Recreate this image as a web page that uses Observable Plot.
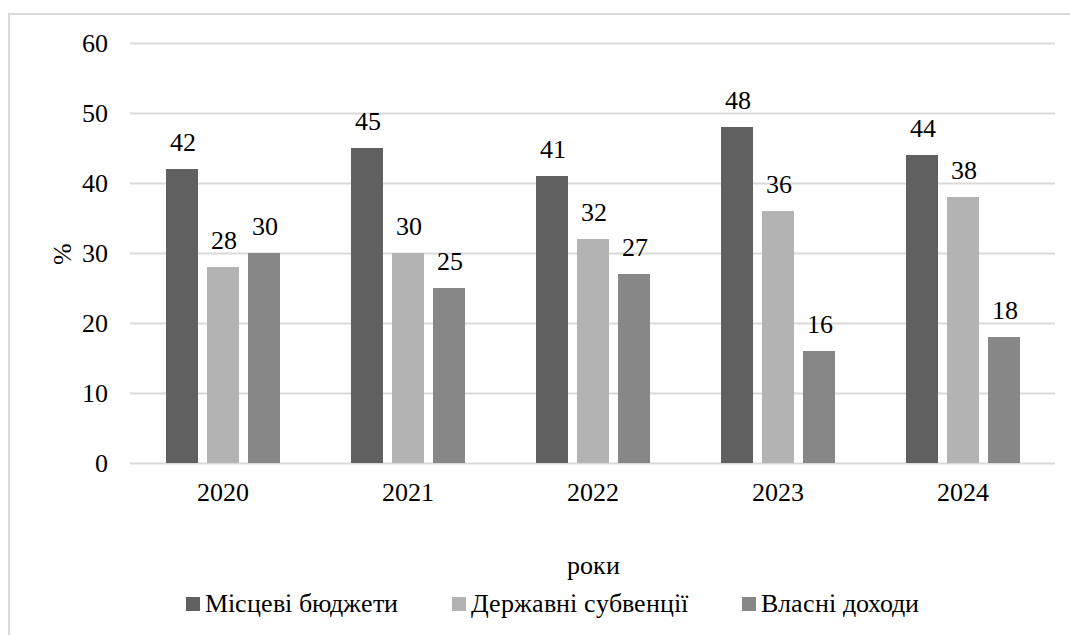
<!DOCTYPE html>
<html>
<head>
<meta charset="utf-8">
<script src="https://cdn.jsdelivr.net/npm/d3@7"></script>
<script src="https://cdn.jsdelivr.net/npm/@observablehq/plot@0.6"></script>
<style>
  @font-face { font-family: "RefSerif"; src: local("Liberation Serif"), local("LiberationSerif"), local("Tinos"); }
  html, body { margin: 0; padding: 0; background: #fff; }
  #wrap { position: relative; width: 1070px; height: 635px; overflow: hidden; font-family: "RefSerif"; }
  #frame { position: absolute; left: 8px; top: 13px; width: 1100px; height: 700px; border: 2px solid #d9d9d9; box-sizing: border-box; }
  #chart { position: absolute; left: 0; top: 0; }
  #legend { position: absolute; left: 0; width: 1104px; top: 589px; display: flex; justify-content: center; gap: 54px; font-size: 26px; color: #000; font-family: "RefSerif"; }
  .item { display: flex; align-items: center; }
  .sw { width: 14px; height: 14px; margin-right: 5px; }
</style>
</head>
<body>
<div id="wrap">
  <div id="frame"></div>
  <div id="chart"></div>
  <div id="legend"></div>
</div>
<script>
const years = ["2020", "2021", "2022", "2023", "2024"];
const seriesNames = ["Місцеві бюджети", "Державні субвенції", "Власні доходи"];
const localBudgets = [42, 45, 41, 48, 44];
const stateSubventions = [28, 30, 32, 36, 38];
const ownRevenues = [30, 25, 27, 16, 18];
const seriesColors = ["#606060", "#b3b3b3", "#878787"];
const yTicks = [0, 10, 20, 30, 40, 50, 60];

const seriesValues = [localBudgets, stateSubventions, ownRevenues];
const data = [];
years.forEach((yr, i) => {
  seriesNames.forEach((s, j) => {
    data.push({year: yr, series: s, value: seriesValues[j][i]});
  });
});

const font = "RefSerif";
const fs = 26;

const chart = Plot.plot({
  width: 1070,
  height: 580,
  marginLeft: 130,
  marginRight: 15,
  marginTop: 43,
  marginBottom: 117,
  style: {fontFamily: font, fontSize: fs + "px", color: "#000", background: "transparent"},
  fx: {domain: years, padding: 0, label: null},
  x: {domain: seriesNames, paddingInner: 0.22, paddingOuter: 0.866, axis: null},
  y: {domain: [0, 60], label: null},
  color: {domain: seriesNames, range: seriesColors},
  marks: [
    Plot.gridY(yTicks, {stroke: "#d9d9d9", strokeOpacity: 1, strokeWidth: 2}),
    Plot.barY(data, {fx: "year", x: "series", y: "value", fill: "series"}),
    Plot.text(data, {fx: "year", x: "series", y: "value", text: d => String(d.value), dy: -27, fontSize: fs, fontFamily: font, fill: "#000"}),
    Plot.axisY(yTicks, {tickSize: 0, tickPadding: 23, label: "%", labelAnchor: "center", labelArrow: "none", labelOffset: 78, fontSize: fs, fontFamily: font}),
    Plot.axisFx({anchor: "bottom", tickSize: 0, tickPadding: 19, label: "роки", labelAnchor: "center", labelArrow: "none", labelOffset: 110, fontSize: fs, fontFamily: font})
  ]
});
document.getElementById("chart").appendChild(chart);

const legend = document.getElementById("legend");
seriesNames.forEach((s, i) => {
  const item = document.createElement("div");
  item.className = "item";
  const sw = document.createElement("span");
  sw.className = "sw";
  sw.style.background = seriesColors[i];
  const t = document.createElement("span");
  t.textContent = s;
  item.appendChild(sw);
  item.appendChild(t);
  legend.appendChild(item);
});
</script>
</body>
</html>
